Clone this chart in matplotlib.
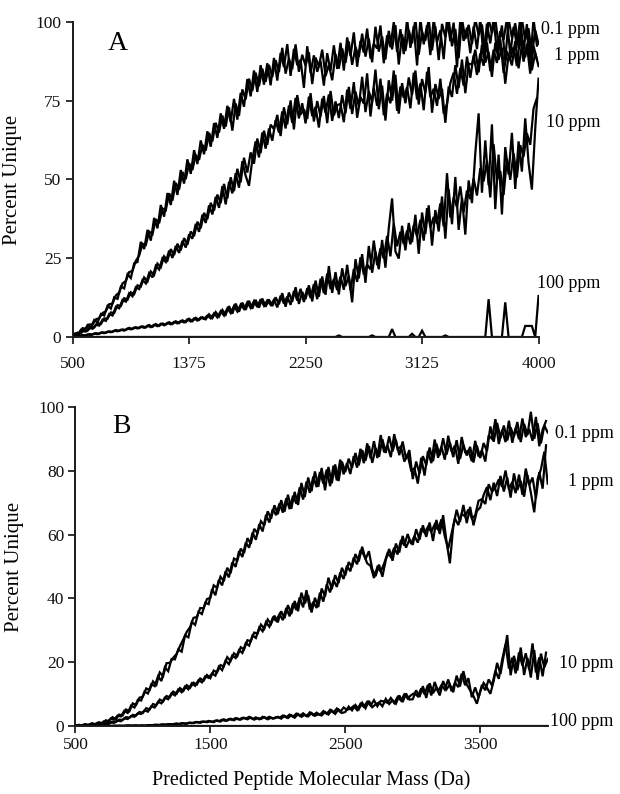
import numpy as np
import matplotlib
matplotlib.use("Agg")
import matplotlib.pyplot as plt

plt.rcParams['font.family'] = ['Liberation Serif', 'DejaVu Serif']

# Predicted peptide molecular mass (Da): readings every 25 Da, plus a second pass read halfway between
mass = np.arange(500, 4001, 25)            # 141 readings
mass_mid = np.arange(512.5, 4000, 25)      # 140 readings in between

# ---------------- Panel A ----------------
a_01ppm = [
    0.5, 1.2, 1.0, 2.8, 2.6, 4.0, 3.9, 5.6, 6.0, 7.6, 8.2, 10.4, 10.6, 13.2, 14.1, 17.0, 17.8, 20.6, 21.0, 24.2,
    25.8, 29.6, 29.2, 33.5, 32.6, 37.4, 36.1, 40.8, 40.2, 45.6, 43.3, 48.9, 46.8, 52.4, 50.1, 55.2, 53.0, 57.8, 56.2, 61.0,
    59.2, 64.8, 62.1, 68.0, 64.9, 70.3, 66.8, 72.9, 65.5, 74.1, 70.2, 78.6, 75.4, 82.0, 78.1, 83.9, 79.6, 85.2, 81.0, 86.4,
    82.5, 87.9, 84.1, 91.8, 83.6, 88.4, 85.0, 92.9, 84.2, 89.6, 86.1, 90.4, 80.3, 88.7, 85.9, 91.2, 82.8, 86.4, 81.5, 89.8,
    85.2, 91.6, 87.0, 93.8, 86.4, 92.1, 88.9, 96.3, 89.0, 94.7, 87.2, 98.5, 90.6, 95.4, 88.1, 97.2, 91.3, 99.0, 86.5, 96.1,
    90.8, 97.5, 93.2, 101.0, 89.6, 96.8, 94.1, 101.0, 91.0, 98.6, 87.9, 99.4, 95.2, 101.0, 92.3, 97.8, 88.5, 101.0, 94.6, 99.1,
    93.0, 101.0, 95.8, 99.2, 90.4, 101.0, 96.5, 101.0, 92.7, 98.9, 87.6, 101.0, 95.1, 99.6, 91.8, 101.0, 94.2, 98.0, 89.3, 97.4,
    93.0]
a_01ppm_mid = [
    1.0, 0.6, 2.3, 1.9, 3.8, 3.1, 5.4, 4.6, 7.3, 6.8, 9.9, 9.0, 12.6, 12.1, 16.0, 15.4, 19.9, 18.7, 23.4, 23.8,
    30.2, 27.9, 34.0, 30.6, 37.8, 34.5, 41.9, 38.2, 45.7, 41.9, 49.6, 45.1, 53.0, 48.7, 56.4, 51.8, 59.3, 54.9, 62.4, 58.0,
    65.3, 60.4, 67.9, 63.2, 71.0, 66.1, 73.4, 68.2, 75.6, 69.0, 77.5, 73.1, 81.9, 76.4, 84.6, 77.8, 86.3, 80.1, 86.9, 79.9,
    88.6, 81.4, 90.2, 85.7, 93.0, 82.9, 91.5, 86.3, 88.0, 79.1, 92.3, 83.8, 89.4, 84.2, 87.6, 79.8, 90.1, 84.5, 92.6, 85.1,
    93.4, 84.6, 95.1, 89.2, 96.7, 85.8, 94.0, 90.3, 97.9, 88.4, 93.1, 91.6, 98.9, 86.9, 95.8, 92.0, 100.0, 90.5, 97.7, 89.8,
    101.0, 91.8, 98.7, 86.2, 101.0, 92.9, 99.0, 89.5, 101.0, 93.6, 97.4, 88.2, 101.0, 93.9, 99.8, 85.6, 101.0, 94.0, 98.2, 90.1,
    98.6, 91.4, 101.0, 88.9, 99.5, 93.2, 101.0, 90.6, 97.1, 94.4, 101.0, 89.7, 98.4, 92.8, 101.0, 90.9, 99.3, 86.8, 101.0, 92.5]

a_1ppm = [
    0.3, 0.9, 1.0, 1.9, 1.7, 2.9, 2.6, 3.9, 3.6, 5.5, 5.1, 7.3, 6.8, 9.6, 9.1, 11.8, 11.2, 13.9, 12.9, 15.8,
    15.2, 18.1, 17.0, 20.3, 18.9, 22.6, 21.4, 25.0, 23.8, 27.4, 25.1, 28.9, 26.7, 30.5, 28.4, 32.6, 31.2, 35.9, 33.4, 38.8,
    36.2, 41.8, 38.9, 44.5, 41.0, 47.9, 42.1, 49.3, 45.6, 52.0, 47.4, 55.8, 51.2, 48.0, 56.3, 62.1, 57.0, 64.9, 59.8, 66.2,
    62.3, 68.8, 64.9, 71.6, 66.2, 73.5, 68.0, 75.9, 69.4, 74.2, 67.8, 76.3, 70.1, 73.0, 66.5, 75.7, 71.2, 77.0, 68.6, 74.8,
    69.5, 76.8, 71.0, 79.4, 70.8, 77.9, 73.2, 82.6, 71.4, 78.0, 74.6, 84.9, 72.3, 79.8, 68.7, 81.5, 75.0, 83.2, 70.9, 80.6,
    74.2, 82.4, 76.9, 84.6, 73.8, 81.9, 77.5, 85.7, 71.2, 80.3, 75.6, 78.8, 68.0, 79.5, 76.2, 86.3, 79.0, 88.1, 77.4, 86.8,
    86.5, 91.2, 84.0, 92.8, 87.1, 90.5, 82.6, 93.4, 88.0, 91.9, 80.4, 89.7, 86.2, 94.0, 85.3, 92.6, 88.8, 95.1, 84.7, 90.2,
    86.0]
a_1ppm_mid = [
    0.5, 1.4, 1.2, 2.2, 2.0, 3.2, 3.0, 4.4, 4.1, 5.9, 5.8, 7.8, 7.6, 10.1, 9.8, 12.3, 11.8, 14.2, 13.6, 16.4,
    16.0, 18.9, 17.6, 20.8, 19.7, 23.3, 22.1, 25.6, 24.3, 27.9, 26.0, 29.6, 27.5, 31.4, 29.3, 33.5, 32.0, 36.6, 34.5, 39.4,
    37.4, 42.6, 40.1, 45.2, 42.5, 48.6, 44.0, 50.7, 46.3, 53.4, 49.1, 56.9, 52.2, 58.6, 55.0, 63.0, 58.4, 65.5, 61.0, 67.4,
    66.0, 70.5, 63.8, 72.9, 67.5, 75.1, 65.9, 76.8, 70.6, 72.3, 69.2, 77.4, 68.4, 74.9, 70.0, 76.5, 67.9, 78.1, 70.3, 73.6,
    74.0, 68.2, 78.5, 72.4, 80.9, 69.6, 76.2, 74.1, 83.7, 70.0, 79.1, 73.4, 82.0, 70.4, 77.3, 74.2, 84.6, 71.8, 79.5, 76.0,
    79.3, 72.6, 83.9, 75.4, 80.5, 72.0, 84.2, 76.1, 78.8, 73.4, 82.0, 70.9, 74.1, 80.6, 83.9, 77.2, 85.4, 79.8, 89.0, 82.3,
    89.4, 83.2, 90.0, 86.1, 93.5, 84.4, 91.2, 87.0, 94.6, 83.8, 90.7, 88.3, 92.1, 86.0, 95.5, 87.4, 93.0, 83.6, 92.4, 88.1]

a_10ppm = [
    0.0, 0.3, 0.2, 0.6, 0.5, 0.9, 0.8, 1.2, 1.0, 1.5, 1.3, 1.8, 1.6, 2.2, 1.9, 2.4, 2.2, 2.9, 2.5, 3.1,
    2.8, 3.4, 3.0, 3.8, 3.2, 4.1, 3.5, 4.3, 3.9, 4.7, 4.1, 5.0, 4.4, 5.3, 4.7, 5.8, 5.0, 6.1, 5.4, 6.3,
    5.6, 7.2, 6.0, 7.9, 6.5, 8.6, 7.1, 9.8, 7.4, 10.6, 8.0, 10.9, 8.6, 11.5, 9.0, 11.8, 9.3, 12.2, 9.6, 11.9,
    9.8, 12.6, 10.4, 13.9, 9.6, 14.1, 11.2, 15.8, 10.5, 14.3, 12.0, 16.4, 11.3, 17.9, 12.8, 19.2, 13.4, 22.5, 14.0, 20.6,
    13.5, 21.8, 16.2, 19.4, 11.0, 24.7, 18.6, 26.3, 17.2, 28.9, 20.4, 27.1, 21.5, 30.8, 22.0, 34.6, 44.0, 27.2, 24.9, 35.3,
    27.5, 36.2, 30.1, 38.8, 26.4, 39.5, 32.7, 41.8, 29.0, 40.3, 33.5, 44.6, 31.2, 46.9, 35.8, 50.8, 34.0, 44.2, 32.5, 49.7,
    42.5, 58.3, 71.0, 45.8, 62.4, 48.2, 67.5, 40.6, 57.9, 38.9, 60.3, 51.6, 64.8, 47.0, 62.1, 52.5, 69.4, 55.3, 46.8, 66.0,
    82.0]
a_10ppm_mid = [
    0.2, 0.1, 0.5, 0.3, 0.8, 0.6, 1.1, 0.9, 1.4, 1.2, 1.7, 1.5, 2.0, 1.8, 2.3, 2.0, 2.7, 2.4, 3.0, 2.7,
    3.3, 2.9, 3.6, 3.1, 3.9, 3.4, 4.2, 3.7, 4.5, 4.0, 4.8, 4.3, 5.1, 4.6, 5.6, 4.9, 5.9, 5.2, 6.2, 5.7,
    6.8, 5.9, 7.5, 6.2, 8.2, 6.8, 9.1, 7.6, 9.9, 8.1, 10.3, 8.9, 11.0, 9.2, 11.4, 9.5, 12.0, 9.9, 11.6, 10.2,
    11.8, 9.4, 13.1, 10.6, 12.8, 10.2, 14.6, 11.6, 15.3, 11.1, 15.5, 12.4, 16.8, 12.0, 18.5, 13.9, 20.1, 15.2, 18.4, 14.9,
    19.2, 15.0, 22.9, 14.8, 21.6, 17.5, 25.3, 19.8, 23.0, 21.5, 30.6, 22.8, 28.2, 24.9, 32.1, 25.6, 36.0, 28.8, 33.4, 29.5,
    33.8, 29.4, 35.5, 31.9, 37.2, 30.6, 40.9, 34.8, 38.1, 36.0, 42.4, 35.1, 52.0, 37.9, 44.3, 41.2, 47.8, 39.6, 46.5, 43.8,
    50.3, 44.9, 53.6, 49.4, 55.8, 44.3, 61.2, 49.8, 52.7, 45.1, 56.6, 49.9, 58.3, 50.6, 60.9, 57.2, 64.7, 61.0, 72.5, 75.8]

a_100ppm = [
    0, 0, 0, 0, 0, 0, 0, 0, 0, 0, 0, 0, 0, 0, 0, 0, 0, 0, 0, 0,
    0, 0, 0, 0, 0, 0, 0, 0, 0, 0, 0, 0, 0, 0, 0, 0, 0, 0, 0, 0,
    0, 0, 0, 0, 0, 0, 0, 0, 0, 0, 0, 0, 0, 0, 0, 0, 0, 0, 0, 0,
    0, 0, 0, 0, 0, 0, 0, 0, 0, 0, 0, 0, 0, 0, 0, 0, 0, 0, 0, 0,
    0.5, 0, 0, 0, 0, 0, 0, 0, 0, 0, 0.5, 0, 0, 0, 0, 0, 2.5, 0, 0, 0,
    0, 0, 1.0, 0, 0, 2.0, 0, 0, 0, 0, 0, 0, 0.5, 0, 0, 0, 0, 0, 0, 0,
    0, 0, 0, 0, 0, 12.0, 0, 0, 0, 0, 11.0, 0, 0, 0, 0, 0, 3.5, 3.5, 3.5, 0,
    13.0]

# ---------------- Panel B ----------------
b_01ppm = [
    0.0, 0.4, 0.1, 0.6, 0.3, 0.9, 0.5, 1.2, 0.8, 1.8, 1.5, 2.8, 2.1, 3.6, 3.3, 5.2, 4.6, 7.1, 6.6, 8.9,
    9.2, 11.8, 11.3, 14.0, 12.9, 16.8, 15.6, 19.7, 19.8, 21.4, 22.6, 25.1, 27.2, 29.5, 31.0, 33.9, 34.2, 37.0, 36.9, 39.8,
    40.2, 44.1, 43.3, 46.8, 45.4, 49.6, 47.9, 52.5, 51.9, 55.6, 54.2, 58.9, 57.1, 61.8, 60.5, 64.2, 62.9, 67.3, 65.0, 69.2,
    66.4, 70.8, 67.2, 72.5, 68.1, 73.4, 69.3, 76.2, 71.8, 77.9, 73.6, 79.8, 75.0, 80.9, 73.9, 81.2, 76.1, 82.0, 76.8, 82.9,
    79.6, 83.8, 80.9, 85.6, 81.7, 86.5, 83.2, 87.8, 82.5, 87.1, 84.4, 89.9, 85.6, 90.8, 86.1, 89.7, 84.9, 89.2, 83.8, 86.5,
    77.4, 82.9, 79.1, 84.6, 81.8, 87.3, 83.0, 88.5, 84.9, 90.2, 85.1, 88.9, 84.3, 89.6, 83.7, 88.1, 84.8, 87.5, 82.6, 87.9,
    84.0, 88.7, 86.2, 93.9, 89.1, 95.0, 90.3, 94.2, 89.5, 93.6, 90.8, 95.3, 89.0, 94.7, 91.2, 98.5, 90.0, 94.9, 88.6, 94.2,
    92.0]
b_01ppm_mid = [
    0.2, 0.0, 0.5, 0.2, 0.7, 0.4, 1.0, 0.7, 1.5, 1.3, 2.4, 2.0, 3.3, 3.0, 4.8, 4.1, 6.4, 5.8, 8.2, 8.0,
    10.8, 10.2, 13.1, 12.5, 15.6, 14.1, 18.4, 17.2, 21.0, 20.9, 24.0, 23.3, 28.4, 27.8, 32.6, 31.7, 35.8, 35.1, 38.6, 38.2,
    42.9, 41.0, 45.8, 44.1, 48.5, 46.6, 51.3, 49.9, 54.8, 53.0, 57.5, 55.9, 60.6, 58.4, 63.3, 61.0, 66.2, 63.8, 68.0, 66.1,
    69.8, 66.9, 71.4, 68.0, 72.2, 69.7, 74.8, 71.0, 76.6, 73.1, 78.2, 74.9, 79.6, 76.0, 80.4, 75.2, 81.6, 77.0, 83.5, 78.9,
    82.4, 79.0, 84.6, 81.0, 86.9, 82.4, 88.6, 83.9, 89.3, 84.0, 91.2, 85.8, 88.0, 84.3, 91.5, 86.8, 87.6, 82.9, 85.0, 80.2,
    80.8, 76.0, 84.1, 78.5, 86.2, 82.4, 89.8, 84.1, 87.6, 83.5, 91.0, 86.0, 87.9, 82.2, 90.6, 85.9, 86.3, 83.0, 89.4, 84.5,
    86.4, 82.9, 91.1, 90.0, 96.2, 88.4, 92.8, 89.0, 95.7, 88.8, 93.5, 89.9, 96.4, 90.6, 93.1, 89.4, 96.9, 87.7, 92.9, 95.6]

b_1ppm = [
    0.0, 0.1, 0.0, 0.2, 0.1, 0.3, 0.2, 0.5, 0.4, 0.9, 0.8, 1.4, 1.3, 2.0, 1.9, 2.8, 2.6, 3.5, 3.3, 4.4,
    4.1, 5.6, 5.2, 6.9, 6.5, 8.3, 7.7, 9.4, 9.0, 10.8, 10.1, 11.9, 11.0, 12.8, 12.0, 13.6, 13.0, 14.9, 14.2, 16.0,
    15.0, 17.4, 16.8, 19.1, 18.7, 21.6, 20.4, 22.8, 21.9, 24.7, 24.0, 26.9, 26.6, 29.3, 29.0, 31.8, 30.5, 33.4, 32.0, 34.6,
    32.5, 36.0, 33.8, 37.9, 35.1, 39.2, 36.0, 41.8, 38.4, 41.0, 35.6, 40.2, 37.3, 43.1, 40.6, 46.5, 42.9, 47.3, 44.8, 49.6,
    47.2, 51.4, 49.8, 53.9, 51.6, 56.2, 52.3, 54.8, 49.1, 47.0, 50.6, 46.8, 52.0, 55.5, 51.8, 57.2, 54.4, 59.6, 55.9, 58.4,
    56.8, 61.7, 58.4, 62.9, 59.3, 63.8, 58.0, 64.6, 60.2, 66.1, 57.9, 51.0, 62.5, 67.8, 64.0, 69.3, 63.6, 68.7, 62.9, 67.4,
    68.5, 72.4, 74.9, 70.8, 76.3, 72.1, 78.4, 73.5, 77.9, 71.6, 79.2, 74.0, 76.8, 71.9, 78.6, 73.2, 67.0, 77.4, 80.5, 86.0,
    76.0]
b_1ppm_mid = [
    0.1, 0.0, 0.1, 0.1, 0.2, 0.2, 0.4, 0.3, 0.7, 0.6, 1.1, 1.0, 1.7, 1.5, 2.4, 2.2, 3.1, 2.9, 4.0, 3.8,
    4.9, 4.5, 6.2, 5.8, 7.6, 7.1, 8.9, 8.4, 10.3, 9.6, 11.5, 10.6, 12.4, 11.5, 13.4, 12.6, 14.4, 13.7, 15.6, 15.1,
    16.5, 15.8, 18.6, 17.5, 20.5, 19.4, 22.1, 21.3, 23.8, 22.9, 26.0, 25.2, 28.4, 27.6, 30.9, 29.7, 32.6, 31.1, 33.9, 33.0,
    35.1, 33.2, 37.0, 34.4, 38.5, 36.4, 40.3, 37.2, 42.6, 36.5, 38.9, 37.0, 41.8, 39.0, 44.4, 41.9, 45.8, 43.6, 48.2, 46.1,
    50.3, 48.5, 52.8, 50.7, 55.1, 53.6, 51.0, 50.2, 46.4, 49.8, 48.4, 50.9, 54.1, 53.0, 55.9, 53.8, 58.3, 56.6, 60.2, 57.1,
    59.6, 57.5, 61.9, 60.6, 62.4, 60.9, 63.2, 61.5, 64.8, 59.4, 55.6, 60.3, 65.1, 63.0, 66.5, 65.7, 67.9, 65.1, 66.0, 70.6,
    71.1, 69.6, 75.8, 73.4, 74.9, 77.3, 75.0, 80.1, 74.2, 76.5, 73.0, 78.8, 72.5, 80.7, 75.6, 77.9, 71.4, 79.6, 74.4, 88.0]

b_10ppm = [
    0.0, 0.0, 0.0, 0.0, 0.0, 0.0, 0.0, 0.0, 0.1, 0.0, 0.1, 0.0, 0.1, 0.1, 0.0, 0.1, 0.2, 0.1, 0.2, 0.1,
    0.2, 0.1, 0.3, 0.2, 0.4, 0.3, 0.5, 0.4, 0.6, 0.5, 0.8, 0.6, 0.9, 0.7, 1.1, 0.9, 1.3, 1.0, 1.4, 1.2,
    1.5, 1.2, 1.8, 1.4, 2.1, 1.7, 2.3, 1.8, 2.4, 2.0, 2.6, 2.1, 2.7, 2.0, 2.5, 2.2, 2.8, 2.1, 2.6, 2.4,
    2.9, 2.3, 3.2, 2.5, 3.4, 2.6, 3.8, 2.9, 3.5, 3.0, 4.1, 3.2, 3.7, 3.3, 4.4, 3.6, 4.9, 3.8, 5.2, 4.1,
    4.4, 6.1, 4.9, 6.6, 5.2, 7.3, 5.6, 7.9, 5.9, 6.8, 7.4, 6.2, 8.5, 6.9, 8.1, 7.0, 9.6, 7.5, 10.2, 8.3,
    8.4, 11.2, 9.1, 12.5, 8.8, 13.4, 10.3, 12.0, 9.6, 14.1, 11.5, 13.0, 10.6, 15.8, 12.4, 17.2, 13.0, 11.2, 9.4, 7.0,
    10.8, 13.5, 12.0, 10.1, 14.2, 19.8, 16.3, 22.5, 28.5, 15.9, 22.0, 17.4, 24.6, 16.0, 21.3, 15.2, 23.8, 14.5, 22.7, 18.4,
    21.0]
b_10ppm_mid = [
    0.0, 0.0, 0.0, 0.0, 0.0, 0.0, 0.0, 0.1, 0.0, 0.1, 0.0, 0.1, 0.0, 0.1, 0.1, 0.2, 0.1, 0.2, 0.1, 0.2,
    0.1, 0.3, 0.2, 0.4, 0.3, 0.5, 0.4, 0.6, 0.5, 0.7, 0.6, 0.9, 0.7, 1.0, 0.9, 1.2, 1.1, 1.4, 1.3, 1.6,
    1.3, 1.7, 1.5, 2.0, 1.6, 2.2, 1.9, 2.5, 2.0, 2.6, 2.3, 2.9, 2.2, 2.7, 2.1, 2.9, 2.4, 2.9, 2.3, 2.8,
    2.6, 3.3, 2.7, 3.6, 2.9, 3.9, 3.2, 4.0, 3.1, 4.3, 3.4, 4.2, 3.5, 4.7, 3.8, 5.1, 4.2, 5.5, 4.4, 5.8,
    5.1, 5.4, 6.3, 5.0, 7.0, 6.0, 7.6, 6.4, 8.1, 6.2, 7.9, 7.7, 7.3, 8.8, 7.2, 9.1, 8.0, 9.9, 8.6, 9.7,
    10.3, 9.3, 11.8, 10.0, 12.9, 9.6, 13.8, 10.9, 12.8, 11.4, 14.6, 10.9, 13.6, 12.2, 16.4, 12.8, 15.0, 9.0, 12.1, 8.9,
    12.9, 11.2, 14.6, 12.7, 17.3, 14.8, 20.8, 25.6, 18.0, 21.4, 16.5, 23.1, 18.9, 22.8, 17.7, 25.9, 16.8, 21.5, 15.6, 23.0]

b_100ppm = [
    0, 0, 0, 0, 0, 0, 0, 0, 0, 0, 0, 0, 0, 0, 0, 0, 0, 0, 0, 0,
    0, 0, 0, 0, 0, 0, 0, 0, 0, 0, 0, 0, 0, 0, 0, 0, 0, 0, 0, 0,
    0, 0, 0, 0, 0, 0, 0, 0, 0, 0, 0, 0, 0, 0, 0, 0, 0, 0, 0, 0,
    0, 0, 0, 0, 0, 0, 0, 0, 0, 0, 0, 0, 0, 0, 0, 0, 0, 0, 0, 0,
    0, 0, 0, 0, 0, 0, 0, 0, 0, 0, 0, 0, 0, 0, 0, 0, 0, 0, 0, 0,
    0, 0, 0, 0, 0, 0, 0, 0, 0, 0, 0, 0, 0, 0, 0, 0, 0, 0, 0, 0,
    0, 0, 0, 0, 0, 0, 0, 0, 0, 0, 0, 0, 0, 0, 0, 0, 0, 0, 0, 0,
    0]

series_labels = ["0.1 ppm", "1 ppm", "10 ppm", "100 ppm"]
a_ticks = [500, 1375, 2250, 3125, 4000]
a_yticks = [0, 25, 50, 75, 100]
b_ticks = [500, 1500, 2500, 3500]
b_yticks = [0, 20, 40, 60, 80, 100]

fig = plt.figure(figsize=(6.2, 7.94), dpi=100)
axA = fig.add_axes([0.1171, 0.5756, 0.7515, 0.3967])
axB = fig.add_axes([0.1216, 0.0856, 0.7618, 0.4018])


def style(ax, xt, yt):
    ax.set_xlim(500, 4000)
    ax.set_ylim(0, 100)
    ax.set_xticks(xt)
    ax.set_yticks(yt)
    for s in ["top", "right"]:
        ax.spines[s].set_visible(False)
    for s in ["left", "bottom"]:
        ax.spines[s].set_linewidth(1.4)
        ax.spines[s].set_color("#1a1a1a")
    ax.tick_params(direction="out", length=5, width=1.2, labelsize=12.5, colors="#111111", pad=3)
    ax.set_ylabel("Percent Unique", fontsize=15, labelpad=10)


lw = 1.6
kw = dict(color="black", lw=lw, solid_joinstyle="miter")
# each series: the 25-Da pass and the in-between pass drawn together form the noisy band
for main, mid in ((a_01ppm, a_01ppm_mid), (a_1ppm, a_1ppm_mid), (a_10ppm, a_10ppm_mid)):
    axA.plot(mass, main, **kw)
    axA.plot(mass_mid, mid, **kw)
axA.plot(mass, a_100ppm, **kw)
for main, mid in ((b_01ppm, b_01ppm_mid), (b_1ppm, b_1ppm_mid), (b_10ppm, b_10ppm_mid)):
    axB.plot(mass, main, **kw)
    axB.plot(mass_mid, mid, **kw)
axB.plot(mass, b_100ppm, **kw)

style(axA, a_ticks, a_yticks)
style(axB, b_ticks, b_yticks)
axA.tick_params(axis="x", pad=9)
axB.set_xlabel("Predicted Peptide Molecular Mass (Da)", fontsize=14.5, labelpad=12)

axA.text(0.076, 0.911, "A", transform=axA.transAxes, fontsize=20)
axB.text(0.0775, 0.918, "B", transform=axB.transAxes, fontsize=20)

a_label_y = [0.975, 0.895, 0.68, 0.17]
b_label_y = [0.918, 0.765, 0.197, 0.013]
for lab, yy in zip(series_labels, a_label_y):
    axA.text(1.132, yy, lab, transform=axA.transAxes, ha="right", va="center", fontsize=13)
for lab, yy in zip(series_labels, b_label_y):
    axB.text(1.14, yy, lab, transform=axB.transAxes, ha="right", va="center", fontsize=13)

fig.savefig("out.png", dpi=100)
